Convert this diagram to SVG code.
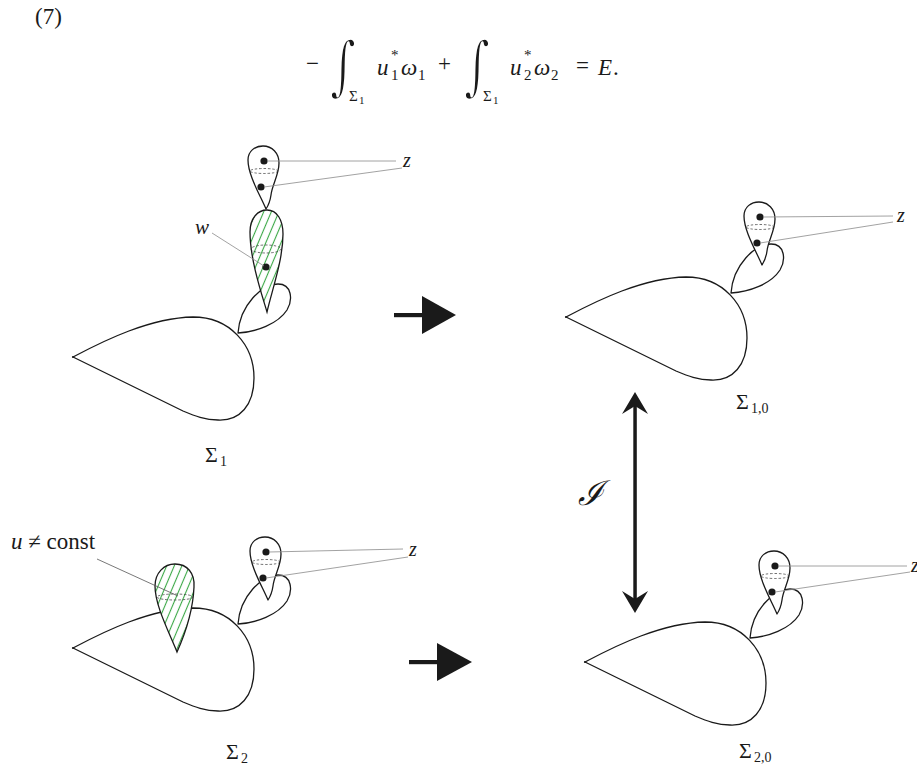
<svg xmlns="http://www.w3.org/2000/svg" width="917" height="768" viewBox="0 0 917 768">
<style>
.o{fill:#fff;stroke:#1a1a1a;stroke-width:1.3;stroke-linejoin:round}
.g{fill:none;stroke:#8a8a8a;stroke-width:0.8}
.d{fill:none;stroke:#333;stroke-width:0.7;stroke-dasharray:2.5,1.8}
.dot{fill:#1a1a1a}
.m{font-family:"Liberation Serif","DejaVu Serif",serif;fill:#1a1a1a}
.int{font-family:"DejaVu Serif",serif;fill:#1a1a1a;stroke:#fff;stroke-width:1.6}
.i{font-style:italic}
.arr{fill:#1a1a1a}
</style>
<defs>
<pattern id="hatch" patternUnits="userSpaceOnUse" width="7" height="7" patternTransform="rotate(23)">
<rect width="7" height="7" fill="#fff"/>
<line x1="3.5" y1="0" x2="3.5" y2="7" stroke="#3aa845" stroke-width="1.1"/>
</pattern>
<path id="body" d="M73,357 C105,340 150,318 193,317 C230,317 254,345 254,378 C254,405 240,421 218,420 C205,420 195,416 183,411 L73,357 Z"/>
<path id="loop" d="M238,333 C240,305 262,284 278,284 C292,284 293,300 287,310 C278,324 256,332 238,333 Z"/>
<g id="ztear">
<path class="o" d="M266,209 C260,195 248,175 248,160 C248,151 255,146 263,146 C272,146 279,153 279,163 C279,175 272,185 271,195 C270,202 268,206 266,209 Z"/>
<ellipse class="d" cx="264" cy="171" rx="14" ry="2.5"/>
<circle class="dot" cx="264" cy="161" r="3.6"/>
<circle class="dot" cx="261" cy="187" r="3.6"/>
</g>
</defs>

<g id="equation">
<text class="m" x="35" y="24" font-size="23">(7)</text>
<text class="m" x="306" y="71" font-size="23">−</text>
<text class="int" x="0" y="0" font-size="50" transform="translate(330,88) scale(1,1.3)">∫</text>
<text class="m" x="349" y="101" font-size="15">Σ</text><text class="m" x="359" y="104" font-size="11">1</text>
<text class="m i" x="377" y="75" font-size="23">u</text>
<text class="m" x="391" y="60" font-size="15">*</text>
<text class="m" x="391" y="80" font-size="15">1</text>
<text class="m i" x="401" y="75" font-size="23">ω</text>
<text class="m" x="418" y="80" font-size="15">1</text>
<text class="m" x="438" y="71" font-size="23">+</text>
<text class="int" x="0" y="0" font-size="50" transform="translate(464,88) scale(1,1.3)">∫</text>
<text class="m" x="483" y="101" font-size="15">Σ</text><text class="m" x="493" y="104" font-size="11">1</text>
<text class="m i" x="510" y="75" font-size="23">u</text>
<text class="m" x="524" y="60" font-size="15">*</text>
<text class="m" x="524" y="80" font-size="15">2</text>
<text class="m i" x="534" y="75" font-size="23">ω</text>
<text class="m" x="551" y="80" font-size="15">2</text>
<text class="m" x="576" y="73" font-size="23">=</text>
<text class="m i" x="598" y="75" font-size="23">E</text>
<text class="m" x="613" y="75" font-size="23">.</text>
</g>

<g id="sigma1">
<use href="#body" class="o"/>
<use href="#loop" class="o"/>
<circle class="dot" cx="73" cy="357" r="1.1"/>
<path d="M267,312 C262,295 250,260 250,232 C250,218 258,210 267,210 C277,210 283,220 283,234 C283,260 272,290 267,312 Z" fill="url(#hatch)" stroke="#1a1a1a" stroke-width="1.3"/>
<ellipse class="d" cx="266" cy="249" rx="15" ry="4"/>
<circle class="dot" cx="266" cy="267" r="3.6"/>
<use href="#ztear"/>
<line class="g" x1="212" y1="233" x2="264" y2="266"/>
<text class="m i" x="195" y="234" font-size="21">w</text>
<line class="g" x1="267" y1="161" x2="396" y2="161"/>
<line class="g" x1="264" y1="187" x2="402" y2="168"/>
<text class="m i" x="403" y="167" font-size="20">z</text>
<text class="m" x="205" y="462" font-size="22">Σ</text><text class="m" x="220" y="466" font-size="14">1</text>
</g>

<g id="sigma10">
<use href="#body" class="o" transform="translate(493,-40)"/>
<use href="#loop" class="o" transform="translate(493,-40)"/>
<circle class="dot" cx="566" cy="317" r="1.1"/>
<use href="#ztear" transform="translate(496,56)"/>
<line class="g" x1="763" y1="217" x2="893" y2="216"/>
<line class="g" x1="760" y1="243" x2="893" y2="222"/>
<text class="m i" x="897" y="222" font-size="20">z</text>
<text class="m" x="736" y="409" font-size="22">Σ</text><text class="m" x="751" y="413" font-size="14">1,0</text>
</g>

<g id="sigma2">
<use href="#body" class="o" transform="translate(0,291)"/>
<use href="#loop" class="o" transform="translate(0,291)"/>
<circle class="dot" cx="73" cy="648" r="1.1"/>
<path d="M177,652 C168,630 155,605 155,586 C155,573 164,564 175,564 C187,564 195,573 194,587 C193,610 186,632 177,652 Z" fill="url(#hatch)" stroke="#1a1a1a" stroke-width="1.3"/>
<ellipse class="d" cx="175" cy="597" rx="18" ry="3"/>
<line x1="97" y1="559" x2="178" y2="596" stroke="#555" stroke-width="0.8"/>
<text class="m" x="11" y="549" font-size="23"><tspan class="i">u</tspan> ≠ const</text>
<use href="#ztear" transform="translate(2,391)"/>
<line class="g" x1="269" y1="552" x2="403" y2="549"/>
<line class="g" x1="266" y1="578" x2="408" y2="557"/>
<text class="m i" x="409" y="556" font-size="20">z</text>
<text class="m" x="226" y="759" font-size="22">Σ</text><text class="m" x="241" y="763" font-size="14">2</text>
</g>

<g id="sigma20">
<use href="#body" class="o" transform="translate(512,305)"/>
<use href="#loop" class="o" transform="translate(512,305)"/>
<circle class="dot" cx="585" cy="662" r="1.1"/>
<use href="#ztear" transform="translate(511,405)"/>
<line class="g" x1="778" y1="566" x2="907" y2="566"/>
<line class="g" x1="775" y1="592" x2="910" y2="572"/>
<text class="m i" x="911" y="572" font-size="20">z</text>
<text class="m" x="739" y="758" font-size="22">Σ</text><text class="m" x="754" y="762" font-size="14">2,0</text>
</g>

<g id="connectors">
<rect class="arr" x="394" y="313" width="30" height="4.2"/>
<path class="arr" d="M422,296 L456,315 L422,334 Z"/>
<rect class="arr" x="409" y="660" width="30" height="4.2"/>
<path class="arr" d="M437,643 L472,662 L437,681 Z"/>
<rect class="arr" x="633.3" y="402" width="3.5" height="200"/>
<path class="arr" d="M635,392 L648,414 L635,406 L622,414 Z"/>
<path class="arr" d="M635,613 L648,591 L635,599 L622,591 Z"/>
<text class="m i" x="578" y="505" font-size="34">ℐ</text>
</g>
</svg>
